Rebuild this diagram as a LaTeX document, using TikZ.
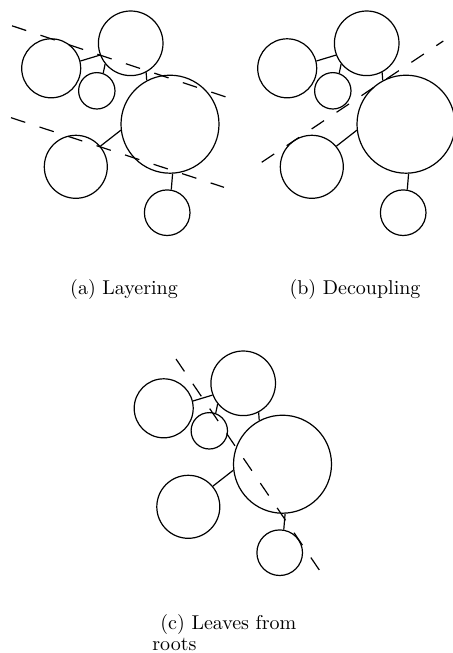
\documentclass[tikz,border=0pt]{standalone}
\usepackage{tikz}

\tikzset{
  blob/.style={draw, circle, line width=0.6pt, inner sep=0pt},
  link/.style={line width=0.6pt},
  cut/.style={line width=0.6pt, dash pattern=on 7.5pt off 7.5pt},
  caption/.style={inner sep=0pt, font=\normalsize}
}

% one copy of the graph, node names start with #1
\newcommand{\clustergraph}[1]{%
  % circles
  \node[blob, minimum size=29.5pt] (#1west) at (51.2,68.3) {};
  \node[blob, minimum size=32.3pt] (#1north) at (130.7,43.3) {};
  \node[blob, minimum size=18.2pt] (#1small) at (96.8,90.8) {};
  \node[blob, minimum size=49pt] (#1hub) at (170,124.2) {};
  \node[blob, minimum size=31.5pt] (#1south) at (75.8,166.8) {};
  \node[blob, minimum size=22.8pt] (#1leaf) at (167.2,212.7) {};
  % links
  \draw[link] (#1west.14) -- (#1north.201);
  \draw[link] (#1small.70) -- (#1north.219);
  \draw[link] (#1north.298) -- (#1hub.118);
  \draw[link] (#1hub.187) -- (#1south.40);
  \draw[link] (#1hub.273) -- (#1leaf.80);
}

\begin{document}
\begin{tikzpicture}[x=0.5pt, y=-0.5pt]
  \useasboundingbox (0,0) rectangle (453,653);

  % (a) layering
  \clustergraph{a}
  \draw[cut] (12,25.8) -- (229,98);
  \draw[cut] (11,117.7) -- (224,187.3);
  \node[caption, anchor=base] (capa) at (124,294) {(a) Layering};

  % (b) decoupling
  \begin{scope}[shift={(236,0)}]
    \clustergraph{b}
    \draw[cut] (25.7,162.3) -- (207.3,41);
  \end{scope}
  \node[caption, anchor=base] (capb) at (355,294) {(b) Decoupling};

  % (c) leaves from roots
  \begin{scope}[shift={(112.5,340)}]
    \clustergraph{c}
    \draw[cut] (63.5,19) -- (207.5,231);
  \end{scope}
  \node[caption, anchor=base west, align=left] (capc) at (152,650)
    {\hspace*{4pt}(c) Leaves from\\[-1.5pt]roots};
\end{tikzpicture}
\end{document}
